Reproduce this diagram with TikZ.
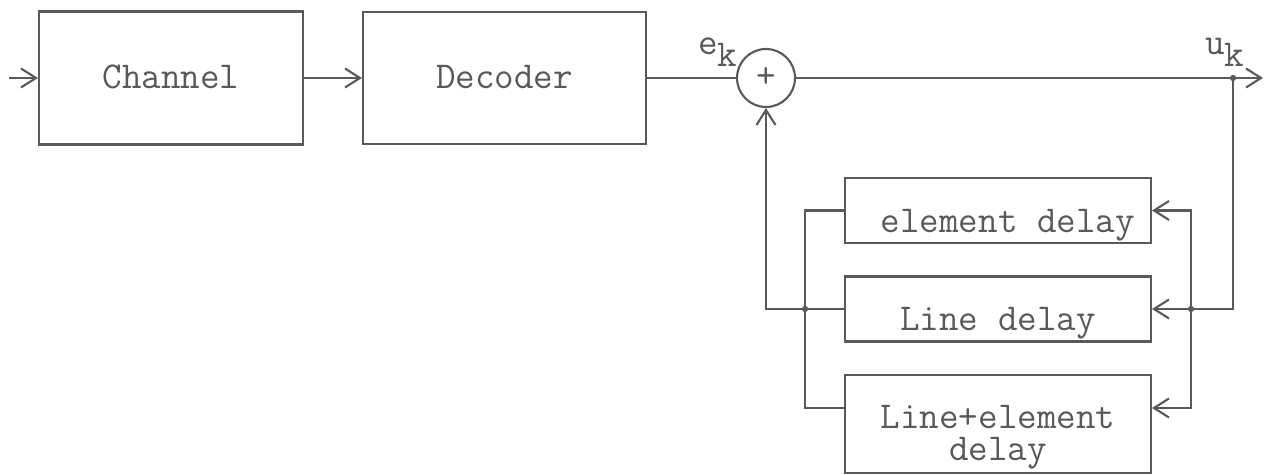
\documentclass[tikz,border=0pt]{standalone}
\usepackage{fontspec}
\usetikzlibrary{arrows.meta}

\newcommand{\subk}{\raisebox{-0.24cm}{k}}

\begin{document}
\begin{tikzpicture}[x=0.02cm,y=-0.02cm,
    line width=1.2pt, color=black!65,
    font=\ttfamily\fontsize{21.6pt}{15.9pt}\selectfont,
    >={Straight Barb[length=0.3cm,width=0.38cm]},
    block/.style={draw,rectangle,inner sep=0pt,text height=0.44cm,text depth=0pt},
    delaybox/.style={draw,rectangle,inner sep=0pt,minimum width=6.12cm},
    lowtext/.style={text height=0.88cm,text depth=0pt}]
\useasboundingbox (0,0) rectangle (1271,475);

% forward path
\node[block,minimum width=5.28cm,minimum height=2.66cm] (chan) at (171,78) {Channel};
\node[block,minimum width=5.66cm,minimum height=2.64cm] (dec) at (504.5,78) {Decoder};
\node[draw,circle,minimum size=1.16cm,inner sep=0pt] (sum) at (766,78) {+};

\node[anchor=base west,inner sep=0pt] (ek) at (697,55) {e\subk};
\node[anchor=base west,inner sep=0pt] (uk) at (1204,55) {u\subk};

% delay boxes
\node[delaybox,lowtext,minimum height=1.3cm] (ed) at (998,210.5) {~element delay};
\node[delaybox,lowtext,minimum height=1.3cm] (ld) at (998,309) {Line delay};
\node[delaybox,align=center,minimum height=1.96cm] (led) at (998,424)
    {\rule{0pt}{1.0cm}Line+element\\[2pt]delay};

\coordinate (in) at (9,78);
\coordinate (out) at (1263,78);
\coordinate (split) at (1233,78);
\coordinate (rjoin) at (1191,309);
\coordinate (ljoin) at (805,309);
\coordinate (ledin) at ([yshift=0.32cm]led.east);
\coordinate (ledout) at ([yshift=0.32cm]led.west);

% connectors
\draw[->] (in) -- (chan.west);
\draw[->] (chan.east) -- (dec.west);
\draw (dec.east) -- (sum.west);
\draw[->] (sum.east) -- (out);

% feedback
\draw (split) |- (rjoin);
\draw[->] (rjoin) -- (ld.east);
\draw[->] (rjoin) |- (ed.east);
\draw[->] (rjoin) |- (ledin);
\draw (ed.west) -| (ljoin);
\draw (ljoin) |- (ledout);
\draw[->] (ld.west) -- (ljoin) -| (sum.south);

% junction dots
\fill (split) circle (1.8pt);
\fill (rjoin) circle (1.8pt);
\fill (ljoin) circle (1.8pt);

\end{tikzpicture}
\end{document}
